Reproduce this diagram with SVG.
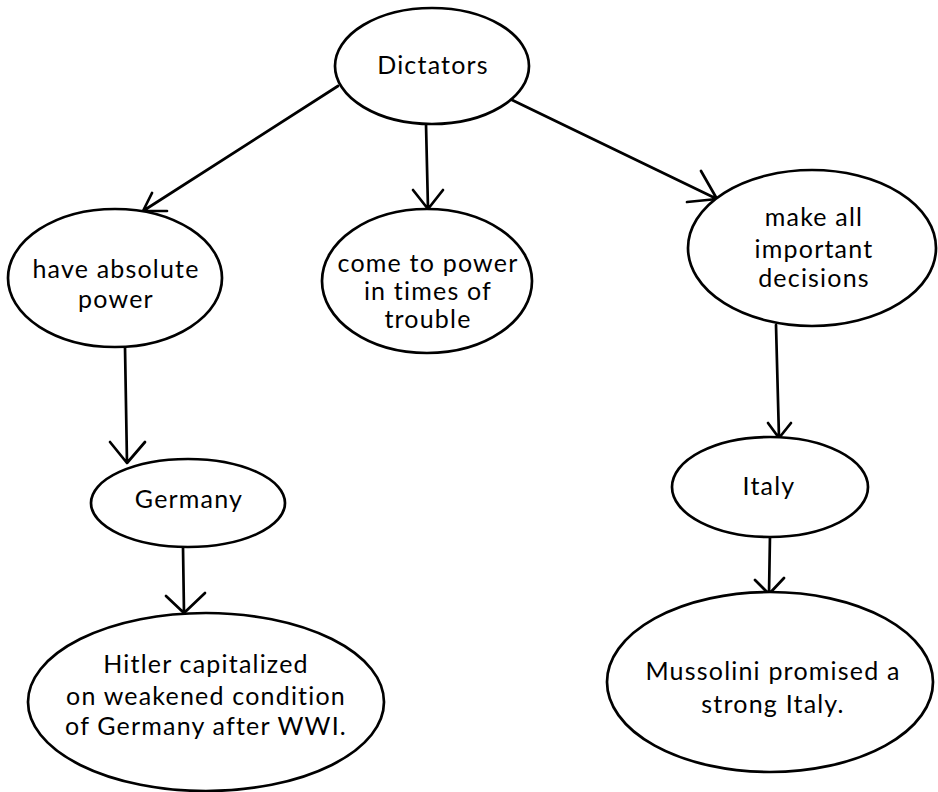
<svg xmlns="http://www.w3.org/2000/svg" width="938" height="792" viewBox="0 0 938 792">
<style>
.node ellipse{fill:#fff;stroke:#000;stroke-width:2.7}
.node text{font-family:Lato,"Open Sans","Liberation Sans",sans-serif;font-size:25px;fill:#000;text-anchor:middle;letter-spacing:1.2px}
.conn path{fill:none;stroke:#000;stroke-width:2.7;stroke-linecap:round;stroke-linejoin:round}
</style>
<rect width="938" height="792" fill="#fff"/>
<g class="conn" id="connectors">
<path d="M338,86 L143,211 M152,193 L143,211 L167,211"/>
<path d="M426,124 L428,209 M413,190 L428,209 L443,190"/>
<path d="M510,99 L717,199 M701,171 L717,199 L687,202"/>
<path d="M125,347 L127,463 M110,442 L127,463 L145,442"/>
<path d="M183,547 L184,613 M166,596 L184,613 L205,593"/>
<path d="M776,325 L779,438 M768,423 L779,438 L791,423"/>
<path d="M762,535 L775,535 M770,535 L769,594 M755,580 L769,594 L784,578"/>
</g>
<g class="node" id="dictators"><ellipse cx="432" cy="66" rx="97" ry="58"/><text x="433" y="74">Dictators</text></g>
<g class="node" id="absolute"><ellipse cx="115" cy="278" rx="107" ry="69"/><text x="116" y="278">have absolute</text><text x="116" y="308">power</text></g>
<g class="node" id="come"><ellipse cx="427" cy="281" rx="105" ry="72"/><text x="428" y="272">come to power</text><text x="428" y="300">in times of</text><text x="428" y="328">trouble</text></g>
<g class="node" id="decisions"><ellipse cx="812" cy="248" rx="124" ry="78"/><text x="814" y="226">make all</text><text x="814" y="258">important</text><text x="814" y="287">decisions</text></g>
<g class="node" id="germany"><ellipse cx="188" cy="503" rx="97" ry="44"/><text x="189" y="508">Germany</text></g>
<g class="node" id="italy"><ellipse cx="770" cy="487" rx="98" ry="50"/><text x="769" y="495">Italy</text></g>
<g class="node" id="hitler"><ellipse cx="206" cy="702" rx="178" ry="89"/><text x="206" y="673">Hitler capitalized</text><text x="206" y="705">on weakened condition</text><text x="206" y="735">of Germany after WWI.</text></g>
<g class="node" id="mussolini"><ellipse cx="770" cy="682" rx="163" ry="90"/><text x="773" y="680">Mussolini promised a</text><text x="773" y="713">strong Italy.</text></g>
</svg>
